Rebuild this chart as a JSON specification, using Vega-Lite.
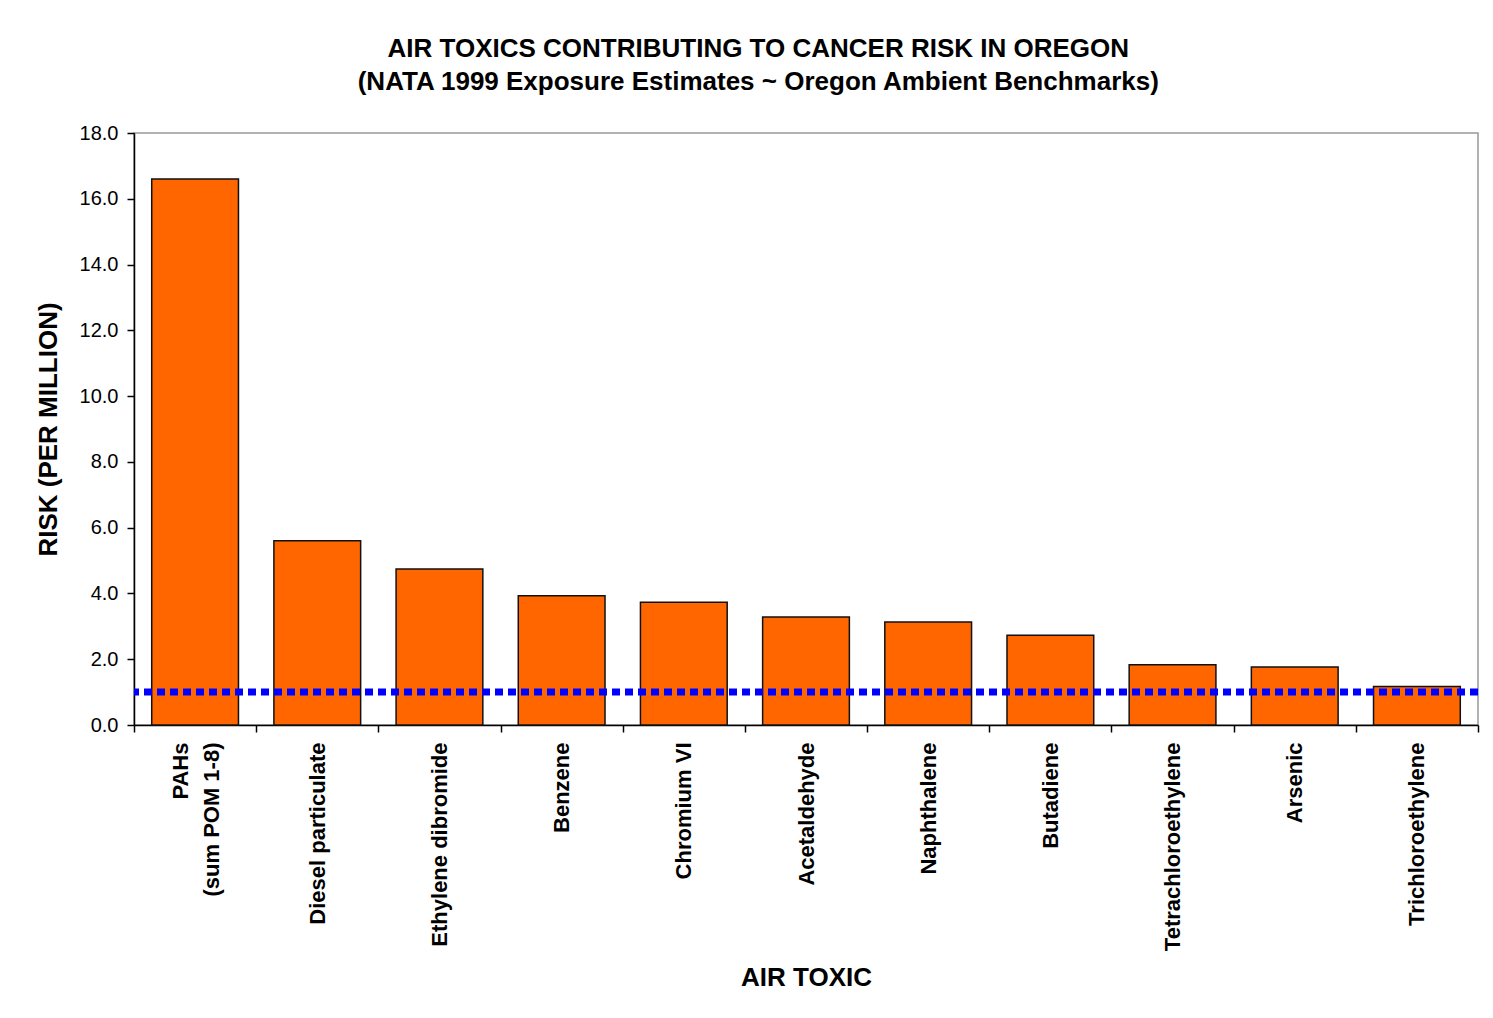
{
  "$schema": "https://vega.github.io/schema/vega-lite/v6.json",
  "width": 1344,
  "height": 592,
  "autosize": {"type": "none"},
  "padding": {"left": 134, "top": 133, "right": 15, "bottom": 293},
  "background": "white",
  "title": {
    "text": "AIR TOXICS CONTRIBUTING TO CANCER RISK IN OREGON",
    "subtitle": "(NATA 1999 Exposure Estimates ~ Oregon Ambient Benchmarks)",
    "anchor": "middle",
    "frame": "bounds",
    "font": "Liberation Sans",
    "fontSize": 26,
    "fontWeight": "bold",
    "color": "#000000",
    "subtitleFont": "Liberation Sans",
    "subtitleFontSize": 26,
    "subtitleFontWeight": "bold",
    "subtitleColor": "#000000",
    "subtitlePadding": 7,
    "offset": 28
  },
  "config": {
    "view": {"stroke": "#999999", "strokeWidth": 1.5},
    "axis": {
      "labelFont": "Liberation Sans",
      "titleFont": "Liberation Sans",
      "labelColor": "#000000",
      "titleColor": "#000000",
      "domainColor": "#000000",
      "tickColor": "#000000",
      "domainWidth": 1.5,
      "tickWidth": 1.5,
      "grid": false
    }
  },
  "data": {
    "values": [
      {"toxic": "PAHs", "risk": 16.6},
      {"toxic": "Diesel particulate", "risk": 5.6},
      {"toxic": "Ethylene dibromide", "risk": 4.74},
      {"toxic": "Benzene", "risk": 3.93},
      {"toxic": "Chromium VI", "risk": 3.73},
      {"toxic": "Acetaldehyde", "risk": 3.28},
      {"toxic": "Naphthalene", "risk": 3.13},
      {"toxic": "Butadiene", "risk": 2.73},
      {"toxic": "Tetrachloroethylene", "risk": 1.83},
      {"toxic": "Arsenic", "risk": 1.76},
      {"toxic": "Trichloroethylene", "risk": 1.17}
    ]
  },
  "layer": [
    {
      "mark": {"type": "bar", "color": "#FF6600", "stroke": "#111111", "strokeWidth": 1.5, "width": {"band": 0.71}},
      "encoding": {
        "x": {
          "field": "toxic",
          "type": "nominal",
          "sort": null,
          "scale": {"paddingInner": 0, "paddingOuter": 0},
          "axis": {
            "title": "AIR TOXIC",
            "titleFontSize": 26,
            "titleFontWeight": "bold",
            "titlePadding": 39,
            "labelAngle": -90,
            "labelAlign": "right",
            "labelBaseline": "middle",
            "labelFontSize": 22,
            "labelFontWeight": "bold",
            "labelPadding": 10,
            "labelLimit": 400,
            "labelLineHeight": 31,
            "labelOffset": {"condition": {"test": "datum.value == 'PAHs'", "value": -15}, "value": 0},
            "labelExpr": "datum.value == 'PAHs' ? ['PAHs', '(sum POM 1-8)'] : datum.label",
            "tickBand": "extent",
            "tickSize": 7
          }
        },
        "y": {
          "field": "risk",
          "type": "quantitative",
          "scale": {"domain": [0, 18], "nice": false},
          "axis": {
            "title": "RISK (PER MILLION)",
            "titleFontSize": 26,
            "titleFontWeight": "bold",
            "titlePadding": 18,
            "values": [0, 2, 4, 6, 8, 10, 12, 14, 16, 18],
            "format": ".1f",
            "labelFontSize": 20,
            "labelPadding": 9,
            "tickSize": 7
          }
        }
      }
    },
    {
      "data": {"values": [{"benchmark": 1.0}]},
      "mark": {"type": "rule", "color": "#0000FF", "strokeWidth": 7, "strokeDash": [8, 5]},
      "encoding": {
        "y": {"field": "benchmark", "type": "quantitative"}
      }
    }
  ]
}
